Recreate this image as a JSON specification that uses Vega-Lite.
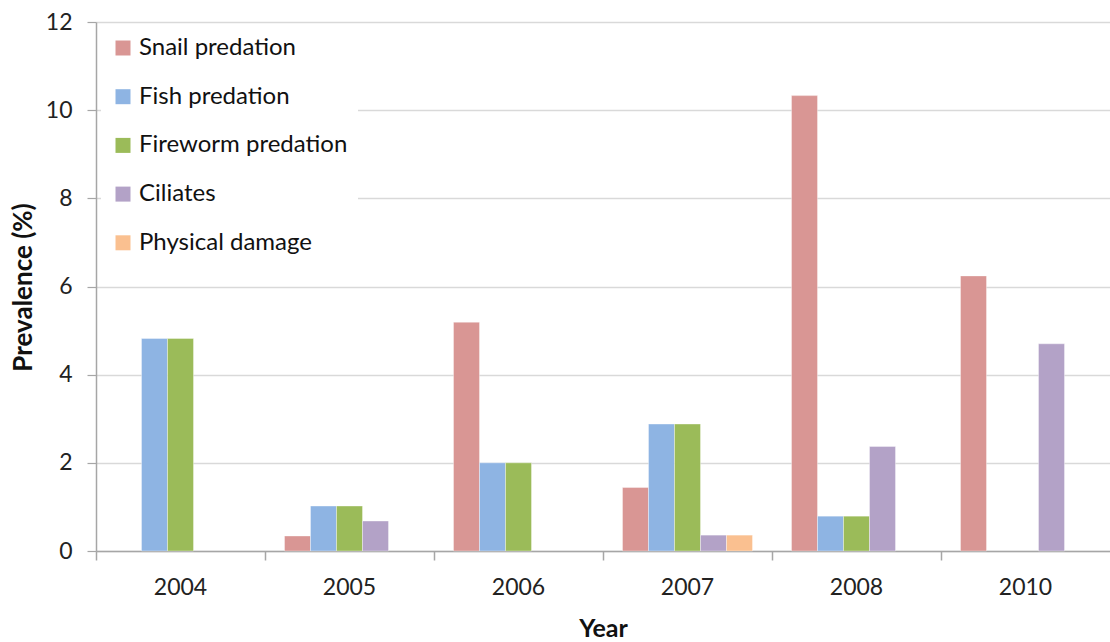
{
  "$schema": "https://vega.github.io/schema/vega-lite/v6.json",
  "autosize": "none",
  "width": 1014,
  "height": 529,
  "padding": {"left": 96, "top": 22, "right": 0, "bottom": 91},
  "background": "white",
  "config": {
    "font": "Lato",
    "view": {"stroke": null},
    "axis": {"labelFont": "Lato", "titleFont": "Lato", "labelColor": "#222222", "titleColor": "#111111"}
  },
  "data": {
    "values": [
      {"year": "2004", "cause": "Fish predation", "value": 4.82},
      {"year": "2004", "cause": "Fireworm predation", "value": 4.82},
      {"year": "2005", "cause": "Snail predation", "value": 0.34},
      {"year": "2005", "cause": "Fish predation", "value": 1.02},
      {"year": "2005", "cause": "Fireworm predation", "value": 1.02},
      {"year": "2005", "cause": "Ciliates", "value": 0.68},
      {"year": "2006", "cause": "Snail predation", "value": 5.19},
      {"year": "2006", "cause": "Fish predation", "value": 2.0},
      {"year": "2006", "cause": "Fireworm predation", "value": 2.0},
      {"year": "2007", "cause": "Snail predation", "value": 1.44},
      {"year": "2007", "cause": "Fish predation", "value": 2.88},
      {"year": "2007", "cause": "Fireworm predation", "value": 2.88},
      {"year": "2007", "cause": "Ciliates", "value": 0.36},
      {"year": "2007", "cause": "Physical damage", "value": 0.36},
      {"year": "2008", "cause": "Snail predation", "value": 10.33},
      {"year": "2008", "cause": "Fish predation", "value": 0.79},
      {"year": "2008", "cause": "Fireworm predation", "value": 0.79},
      {"year": "2008", "cause": "Ciliates", "value": 2.37},
      {"year": "2010", "cause": "Snail predation", "value": 6.24},
      {"year": "2010", "cause": "Ciliates", "value": 4.7}
    ]
  },
  "mark": {"type": "bar", "stroke": "white", "strokeWidth": 0.6, "strokeOpacity": 0.6},
  "encoding": {
    "x": {
      "field": "year",
      "type": "nominal",
      "sort": ["2004", "2005", "2006", "2007", "2008", "2010"],
      "scale": {"paddingInner": 0, "paddingOuter": 0},
      "axis": {
        "title": "Year",
        "titleFontSize": 25,
        "titleFontWeight": "bold",
        "titleY": 77,
        "titleBaseline": "middle",
        "labelAngle": 0,
        "labelFontSize": 23,
        "labelPadding": 16,
        "bandPosition": 0,
        "tickSize": 9,
        "tickColor": "#a6a6a6",
        "domainColor": "#a6a6a6",
        "domainWidth": 1.5,
        "tickWidth": 1.5,
        "grid": false
      }
    },
    "xOffset": {
      "field": "cause",
      "type": "nominal",
      "sort": ["Snail predation", "Fish predation", "Fireworm predation", "Ciliates", "Physical damage"],
      "scale": {
        "domain": ["Snail predation", "Fish predation", "Fireworm predation", "Ciliates", "Physical damage"],
        "paddingInner": 0,
        "paddingOuter": 0.75
      }
    },
    "y": {
      "field": "value",
      "type": "quantitative",
      "scale": {"domain": [0, 12], "nice": false},
      "axis": {
        "title": "Prevalence (%)",
        "titleFontSize": 26,
        "titleFontWeight": "bold",
        "titleX": -73,
        "titleY": 265,
        "titleAngle": -90,
        "titleAlign": "center",
        "titleBaseline": "middle",
        "values": [0, 2, 4, 6, 8, 10, 12],
        "labelFontSize": 23,
        "labelPadding": 15,
        "tickSize": 9,
        "tickColor": "#a6a6a6",
        "tickWidth": 1.2,
        "domainColor": "#a6a6a6",
        "domainWidth": 1.5,
        "grid": true,
        "gridColor": "#d9d9d9",
        "gridWidth": 1.5
      }
    },
    "color": {
      "field": "cause",
      "type": "nominal",
      "scale": {
        "domain": ["Snail predation", "Fish predation", "Fireworm predation", "Ciliates", "Physical damage"],
        "range": ["#d99694", "#8eb4e3", "#9bbb59", "#b3a2c7", "#fac090"]
      },
      "legend": {
        "title": null,
        "orient": "none",
        "legendX": 5,
        "legendY": 4,
        "padding": 10,
        "fillColor": "white",
        "strokeColor": null,
        "symbolType": "square",
        "symbolSize": 225,
        "symbolStrokeWidth": 0,
        "labelFont": "Lato",
        "labelFontSize": 24,
        "labelColor": "#111111",
        "labelOffset": 4,
        "rowPadding": 24.7,
        "labelLimit": 400
      }
    }
  }
}
